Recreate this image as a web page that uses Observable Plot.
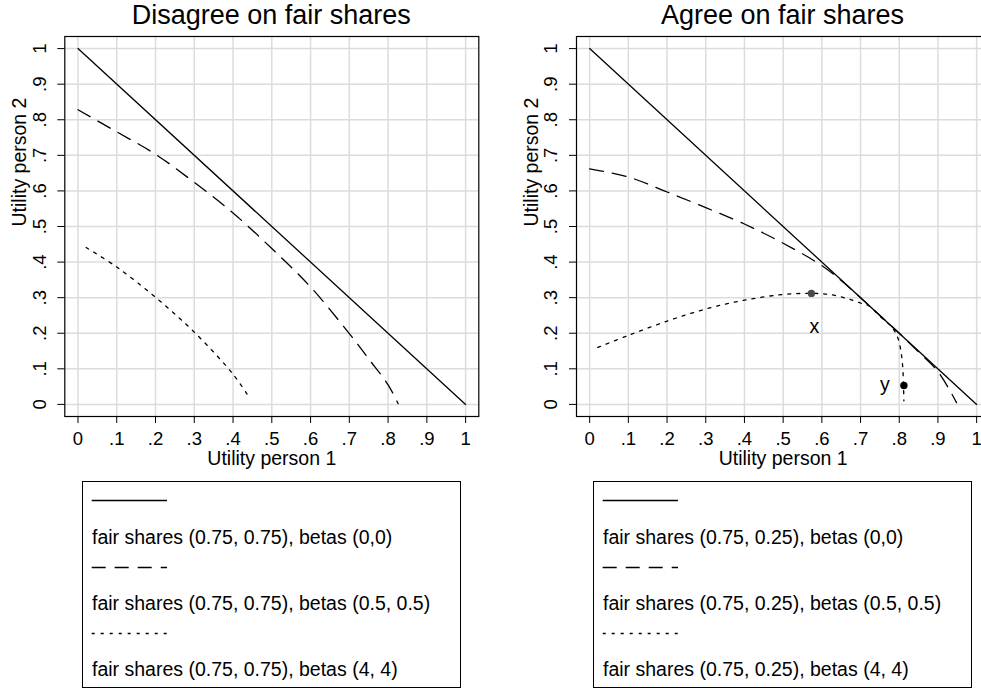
<!DOCTYPE html>
<html>
<head>
<meta charset="utf-8">
<script src="https://cdn.jsdelivr.net/npm/d3@7"></script>
<script src="https://cdn.jsdelivr.net/npm/@observablehq/plot@0.6"></script>
<style>
  body { margin: 0; background: #fff; font-family: "Liberation Sans", Arial, Helvetica, sans-serif; }
  #root { position: relative; width: 981px; height: 690px; overflow: hidden; background: #fff; }
  .panel { position: absolute; top: 0; }
  .title { position: absolute; top: 1.8px; font-size: 27px; line-height: 1; color: #000; white-space: nowrap; transform: translateX(-50%); }
  .legend { position: absolute; top: 481px; height: 207px; border: 1px solid #000; box-sizing: border-box; background: #fff; }
  .legend svg { position: absolute; left: 0; top: 0; }
  .legend .row { position: absolute; left: 9px; font-size: 19.5px; line-height: 1; white-space: nowrap; color: #000; transform: translateY(-50%); }
</style>
</head>
<body>
<div id="root"></div>
<script>
// ---------- data ----------
const xTicks = [0, 0.1, 0.2, 0.3, 0.4, 0.5, 0.6, 0.7, 0.8, 0.9, 1];
const yTicks = [0, 0.1, 0.2, 0.3, 0.4, 0.5, 0.6, 0.7, 0.8, 0.9, 1];

const panelTitles = ["Disagree on fair shares", "Agree on fair shares"];
const xTitle = "Utility person 1";
const yTitle = "Utility person 2";

// Disagree on fair shares (fair shares 0.75, 0.75)
const disagreeBeta0 = [[0, 1], [1, 0]];
const disagreeBeta05 = [[0, 0.828], [0.1, 0.766], [0.2, 0.703], [0.3, 0.624], [0.4, 0.538], [0.5, 0.438],
  [0.6, 0.33], [0.7, 0.199], [0.75, 0.128], [0.8, 0.055], [0.826, 0.002]];
const disagreeBeta4 = [[0.021, 0.441], [0.1, 0.386], [0.2, 0.301], [0.3, 0.203], [0.4, 0.085], [0.441, 0.021]];

// Agree on fair shares (fair shares 0.75, 0.25)
const agreeBeta0 = [[0, 1], [1, 0]];
const agreeBeta05 = [[0, 0.662], [0.1, 0.639], [0.2, 0.597], [0.3, 0.553], [0.4, 0.507], [0.5, 0.453],
  [0.6, 0.39], [0.65, 0.348], [0.7, 0.3], [0.75, 0.25], [0.8, 0.2], [0.85, 0.147], [0.9, 0.092], [0.948, 0.005]];
const agreeBeta4 = [[0.021, 0.16], [0.1, 0.194], [0.2, 0.234], [0.3, 0.268], [0.4, 0.293], [0.5, 0.309],
  [0.573, 0.312], [0.62, 0.309], [0.667, 0.297], [0.7, 0.285], [0.72, 0.278], [0.75, 0.248], [0.783, 0.214],
  [0.797, 0.185], [0.805, 0.145], [0.809, 0.104], [0.811, 0.053], [0.812, 0.01]];

const agreePoints = [
  { u1: 0.573, u2: 0.312, label: "x" },
  { u1: 0.812, u2: 0.053, label: "y" }
];

const leftLegendLabels = [
  "fair shares (0.75, 0.75), betas (0,0)",
  "fair shares (0.75, 0.75), betas (0.5, 0.5)",
  "fair shares (0.75, 0.75), betas (4, 4)"
];
const rightLegendLabels = [
  "fair shares (0.75, 0.25), betas (0,0)",
  "fair shares (0.75, 0.25), betas (0.5, 0.5)",
  "fair shares (0.75, 0.25), betas (4, 4)"
];

// ---------- styling ----------
const FONT = '"Liberation Sans", Arial, Helvetica, sans-serif';
const dashStyles = [null, "14,9", "3,6"];
const tickLabel = d => d === 0 ? "0" : d === 1 ? "1" : "." + Math.round(d * 10);
const pad = 0.034;

function makePanel({ width, marginLeft, marginRight, series, points }) {
  const marks = [
    Plot.gridX({ ticks: xTicks, stroke: "#dcdcdc", strokeOpacity: 1, strokeWidth: 1.5 }),
    Plot.gridY({ ticks: yTicks, stroke: "#dcdcdc", strokeOpacity: 1, strokeWidth: 1.5 }),
    Plot.frame({ stroke: "#000", strokeWidth: 1.2 }),
    Plot.axisX({ ticks: xTicks, tickSize: 7, tickPadding: 8, tickFormat: tickLabel, fontSize: 18.5, label: null }),
    Plot.axisY({ ticks: yTicks, tickSize: 7, tickFormat: () => "", label: null }),
    Plot.text(yTicks, {
      y: d => d, frameAnchor: "left", dx: -19.3, rotate: -90, text: tickLabel,
      textAnchor: "middle", lineAnchor: "bottom", fontSize: 18.5, fill: "#000"
    }),
    Plot.text([xTitle], { frameAnchor: "bottom", dy: 48.5, lineAnchor: "bottom", fontSize: 19.5, fill: "#000" }),
    Plot.text([yTitle], { frameAnchor: "left", dx: -52.6, rotate: -90, lineAnchor: "top", fontSize: 19.5, fill: "#000" }),
    ...series.map((s, i) => Plot.line(s, {
      x: d => d[0], y: d => d[1], stroke: "#000", strokeWidth: 1.3,
      strokeDasharray: dashStyles[i], curve: "catmull-rom"
    }))
  ];
  if (points) {
    marks.push(Plot.dot(points, { x: "u1", y: "u2", r: 3.7, fill: d => d.label === "x" ? "#4a4a4a" : "#000" }));
    marks.push(Plot.text(points.filter(d => d.label === "x"), { x: "u1", y: "u2", text: "label", dx: 3, dy: 33, fontSize: 19.5, fill: "#000" }));
    marks.push(Plot.text(points.filter(d => d.label === "y"), { x: "u1", y: "u2", text: "label", dx: -19, dy: -1, fontSize: 19.5, fill: "#000" }));
  }
  return Plot.plot({
    width, height: 475,
    marginLeft, marginRight, marginTop: 36, marginBottom: 59,
    x: { domain: [-pad, 1 + pad] },
    y: { domain: [-pad, 1 + pad] },
    style: { fontFamily: FONT, background: "transparent", overflow: "visible", color: "#000" },
    marks
  });
}

const root = document.getElementById("root");

function addPanel(left, opts, title, titleCenter) {
  const svg = makePanel(opts);
  svg.classList.add("panel");
  svg.style.left = left + "px";
  root.appendChild(svg);
  const t = document.createElement("div");
  t.className = "title";
  t.textContent = title;
  t.style.left = titleCenter + "px";
  root.appendChild(t);
}

addPanel(0, { width: 490, marginLeft: 64.3, marginRight: 11.7, series: [disagreeBeta0, disagreeBeta05, disagreeBeta4] },
  panelTitles[0], 271.3);
addPanel(490, { width: 510, marginLeft: 86, marginRight: 10.7, series: [agreeBeta0, agreeBeta05, agreeBeta4], points: agreePoints },
  panelTitles[1], 782.5);

function addLegend(left, width, labels) {
  const box = document.createElement("div");
  box.className = "legend";
  box.style.left = left + "px";
  box.style.width = width + "px";
  const ns = "http://www.w3.org/2000/svg";
  const s = document.createElementNS(ns, "svg");
  s.setAttribute("width", width);
  s.setAttribute("height", 207);
  const lineRows = [18.5, 85.5, 151.5];
  lineRows.forEach((y, i) => {
    const l = document.createElementNS(ns, "line");
    l.setAttribute("x1", 8.7); l.setAttribute("x2", 84);
    l.setAttribute("y1", y); l.setAttribute("y2", y);
    l.setAttribute("stroke", "#000"); l.setAttribute("stroke-width", 1.3);
    if (dashStyles[i]) l.setAttribute("stroke-dasharray", dashStyles[i]);
    s.appendChild(l);
  });
  box.appendChild(s);
  const textRows = [55.5, 121.5, 188];
  labels.forEach((lab, i) => {
    const d = document.createElement("div");
    d.className = "row";
    d.style.top = textRows[i] + "px";
    d.textContent = lab;
    box.appendChild(d);
  });
  root.appendChild(box);
}
addLegend(82, 379, leftLegendLabels);
addLegend(593, 379, rightLegendLabels);
</script>
</body>
</html>
